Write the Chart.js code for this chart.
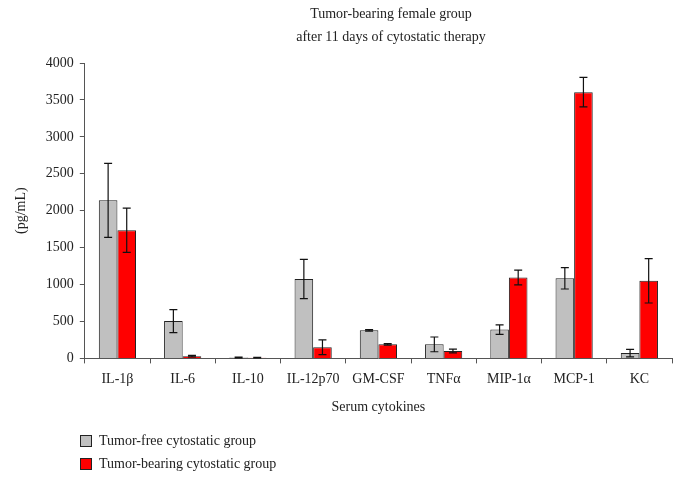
<!DOCTYPE html>
<html>
<head>
<meta charset="utf-8">
<script src="https://cdn.jsdelivr.net/npm/chart.js@4/dist/chart.umd.min.js"></script>
<style>
  body { margin: 0; background: #fff; }
  #wrap { width: 681px; height: 482px; }
</style>
</head>
<body>
<div id="wrap"><canvas id="barChart" width="681" height="482"></canvas></div>
<script>
// Serum cytokines, pg/mL
var categories = ['IL-1\u03b2', 'IL-6', 'IL-10', 'IL-12p70', 'GM-CSF', 'TNF\u03b1', 'MIP-1\u03b1', 'MCP-1', 'KC'];
var tumorFree = [2140, 505, 12, 1075, 380, 190, 390, 1085, 72];
var tumorFreeErr = [500, 155, 5, 265, 10, 100, 65, 145, 50];
var tumorBearing = [1735, 30, 10, 150, 190, 100, 1095, 3605, 1050];
var tumorBearingErr = [300, 10, 4, 100, 10, 25, 100, 200, 300];
var yTicks = [0, 500, 1000, 1500, 2000, 2500, 3000, 3500, 4000];
var titleLines = ['Tumor-bearing female group', 'after 11 days of cytostatic therapy'];

var serif = "'Liberation Serif', 'DejaVu Serif', serif";

// error bars, drawn from the y scale
var errorBars = {
  id: 'errorBars',
  afterDatasetsDraw: function (chart) {
    var ctx = chart.ctx;
    var yScale = chart.scales.y;
    chart.data.datasets.forEach(function (ds, di) {
      var meta = chart.getDatasetMeta(di);
      meta.data.forEach(function (bar, i) {
        var v = ds.data[i], e = ds.errors[i];
        var top = yScale.getPixelForValue(v + e);
        var bot = yScale.getPixelForValue(Math.max(0, v - e));
        ctx.save();
        ctx.strokeStyle = '#111';
        ctx.lineWidth = 1.2;
        ctx.beginPath();
        ctx.moveTo(bar.x, top); ctx.lineTo(bar.x, bot);
        ctx.moveTo(bar.x - 4, top); ctx.lineTo(bar.x + 4, top);
        ctx.moveTo(bar.x - 4, bot); ctx.lineTo(bar.x + 4, bot);
        ctx.stroke();
        ctx.restore();
      });
    });
  }
};

// title (sits a bit right of centre) and legend stacked at bottom left
var extras = {
  id: 'extras',
  afterDraw: function (chart) {
    var ctx = chart.ctx;
    ctx.save();
    ctx.font = '14px ' + serif;
    ctx.fillStyle = '#222';
    ctx.textBaseline = 'middle';
    ctx.textAlign = 'center';
    titleLines.forEach(function (t, i) {
      ctx.fillText(t, 391, 14 + i * 23);
    });
    ctx.textAlign = 'left';
    chart.data.datasets.forEach(function (ds, i) {
      var y = 441 + i * 23;
      ctx.fillStyle = ds.backgroundColor;
      ctx.fillRect(80, y - 6, 11, 11);
      ctx.strokeStyle = '#222';
      ctx.lineWidth = 1;
      ctx.strokeRect(80.5, y - 5.5, 11, 11);
      ctx.fillStyle = '#222';
      ctx.fillText(ds.label, 99, y);
    });
    ctx.restore();
  }
};

var ctx = document.getElementById('barChart').getContext('2d');
var barChart = new Chart(ctx, {
  type: 'bar',
  data: {
    labels: categories,
    datasets: [{
      label: 'Tumor-free cytostatic group',
      backgroundColor: '#c0c0c0',
      borderColor: '#222',
      borderWidth: 1,
      data: tumorFree,
      errors: tumorFreeErr
    }, {
      label: 'Tumor-bearing cytostatic group',
      backgroundColor: '#ff0000',
      borderColor: '#222',
      borderWidth: 1,
      data: tumorBearing,
      errors: tumorBearingErr
    }]
  },
  options: {
    responsive: false,
    animation: false,
    layout: { padding: { left: 9, right: 9, top: 63, bottom: 62 } },
    categoryPercentage: 0.57,
    barPercentage: 1.0,
    plugins: {
      legend: { display: false },
      tooltip: { enabled: false },
      title: { display: false }
    },
    scales: {
      x: {
        grid: { display: true, drawOnChartArea: false, drawTicks: true, tickLength: 5, color: '#555', offset: true },
        border: { color: '#555', width: 1 },
        ticks: { color: '#222', font: { family: serif, size: 14 }, padding: 8, maxRotation: 0, autoSkip: false },
        title: { display: true, text: 'Serum cytokines', color: '#222', font: { family: serif, size: 14 }, padding: { top: 3 } }
      },
      y: {
        min: 0,
        max: 4000,
        afterBuildTicks: function (axis) {
          axis.ticks = yTicks.map(function (v) { return { value: v }; });
        },
        grid: { display: true, drawOnChartArea: false, drawTicks: true, tickLength: 5, color: '#555' },
        border: { color: '#555', width: 1 },
        ticks: { color: '#222', font: { family: serif, size: 14 }, padding: 6, callback: function (v) { return String(v); } },
        title: { display: true, text: '(pg/mL)', color: '#222', font: { family: serif, size: 14 }, padding: { bottom: 10 } }
      }
    }
  },
  plugins: [errorBars, extras]
});
</script>
</body>
</html>
